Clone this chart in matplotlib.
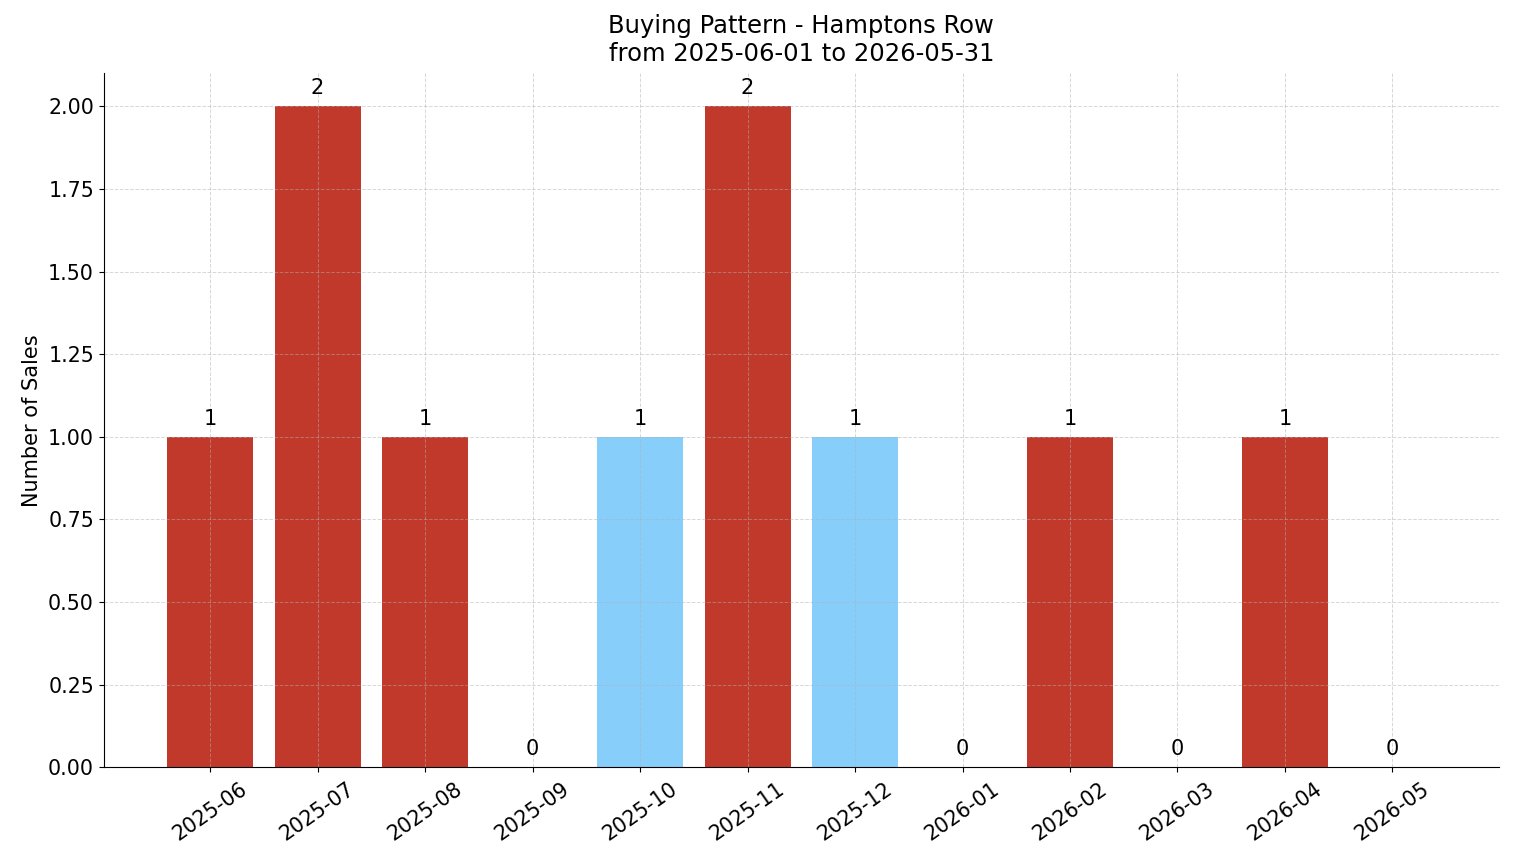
import matplotlib
matplotlib.use('Agg')
import matplotlib.pyplot as plt

# Monthly sales counts
months = ['2025-06', '2025-07', '2025-08', '2025-09', '2025-10', '2025-11',
          '2025-12', '2026-01', '2026-02', '2026-03', '2026-04', '2026-05']
sales = [1, 2, 1, 0, 1, 2, 1, 0, 1, 0, 1, 0]
# which months are highlighted blue
highlight = ['2025-10', '2025-12']

red = '#c0392b'
blue = '#87cefa'
colors = [blue if m in highlight else red for m in months]

fig, ax = plt.subplots(figsize=(15.14, 8.63), dpi=100)
bars = ax.bar(months, sales, color=colors, width=0.8)

# value labels on top of each bar
for b, v in zip(bars, sales):
    ax.text(b.get_x() + b.get_width() / 2, v + 0.025, str(v),
            ha='center', va='bottom', fontsize=15)

ax.set_title('Buying Pattern - Hamptons Row\nfrom 2025-06-01 to 2026-05-31', fontsize=17.5, pad=9)
ax.set_ylabel('Number of Sales', fontsize=15)
ax.tick_params(axis='both', labelsize=14.8)
ax.tick_params(axis='x', pad=5)
plt.setp(ax.get_xticklabels(), rotation=35, ha='center')
ax.grid(True, linestyle='--', alpha=0.5, linewidth=0.7)
ax.spines['top'].set_visible(False)
ax.spines['right'].set_visible(False)

fig.subplots_adjust(left=0.0685, right=0.99, top=0.915, bottom=0.111)
fig.savefig('out.png', dpi=100)
